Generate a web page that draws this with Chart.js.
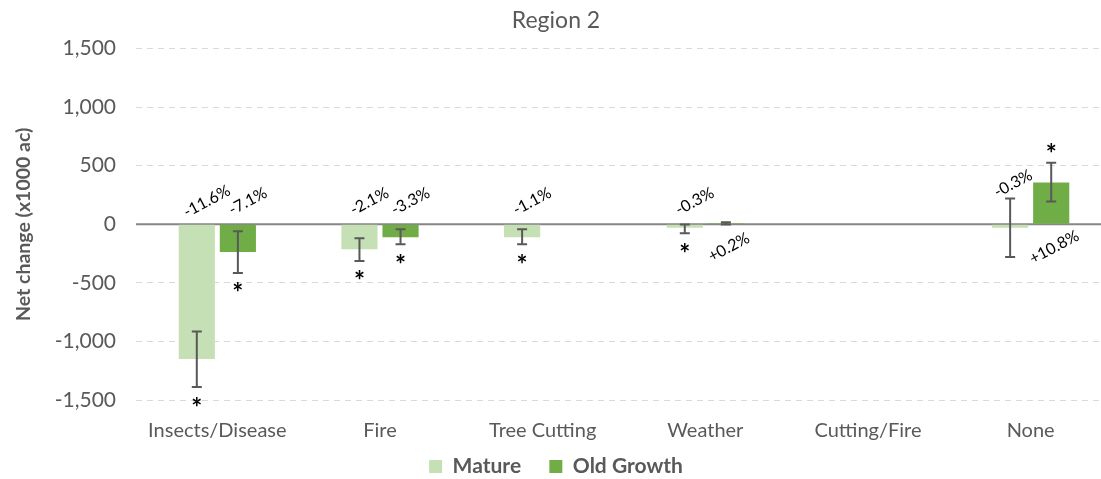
<!DOCTYPE html>
<html>
<head>
<meta charset="utf-8">
<script src="https://cdn.jsdelivr.net/npm/chart.js@4"></script>
<style>
  html,body{margin:0;padding:0;background:#fff;overflow:hidden;}
  #wrap{width:1112px;height:487px;position:relative;}
</style>
</head>
<body>
<div id="wrap"><canvas id="chart"></canvas></div>
<script>
  // values in 1000 ac
  const categories = ['Insects/Disease','Fire','Tree Cutting','Weather','Cutting/Fire','None'];
  const mature = [-1150, -212, -110, -30, null, -30];
  const matureLow = [-1390, -314, -170, -76, null, -280];
  const matureHigh = [-915, -119, -42, -2, null, 220];
  const maturePct = ['-11.6%','-2.1%','-1.1%','-0.3%','','-0.3%'];
  const matureStar = [true, true, true, true, false, false];

  const oldGrowth = [-237, -110, null, 8, null, 356];
  const oldLow = [-415, -170, null, -2, null, 195];
  const oldHigh = [-59, -42, null, 18, null, 525];
  const oldPct = ['-7.1%','-3.3%','','+0.2%','','+10.8%'];
  const oldStar = [true, true, false, false, false, true];

  const yTicks = [-1500,-1000,-500,0,500,1000,1500];

  const grey = '#595959';
  const FONT = 'Lato, "Open Sans", sans-serif';

  const extras = [
    { low: matureLow, high: matureHigh, pct: maturePct, star: matureStar },
    { low: oldLow, high: oldHigh, pct: oldPct, star: oldStar }
  ];

  // solid zero line under the bars
  const zeroLine = {
    id:'zeroLine',
    beforeDatasetsDraw(chart){
      const ctx = chart.ctx, a = chart.chartArea, y0 = chart.scales.y.getPixelForValue(0);
      ctx.save();
      ctx.strokeStyle = '#868686'; ctx.lineWidth = 2;
      ctx.beginPath(); ctx.moveTo(a.left, y0); ctx.lineTo(a.right, y0); ctx.stroke();
      ctx.restore();
    }
  };

  // error bars, rotated percent labels and significance stars
  const annotate = {
    id:'annotate',
    afterDatasetsDraw(chart){
      const ctx = chart.ctx, y = chart.scales.y;
      const y0 = y.getPixelForValue(0);
      chart.data.datasets.forEach((ds,di)=>{
        const meta = chart.getDatasetMeta(di), ex = extras[di];
        meta.data.forEach((bar,i)=>{
          const v = ds.data[i];
          if(v==null) return;
          const x = bar.x;
          const yl = y.getPixelForValue(ex.low[i]), yh = y.getPixelForValue(ex.high[i]);
          ctx.save();
          ctx.strokeStyle = '#595959'; ctx.lineWidth = 2;
          ctx.beginPath();
          ctx.moveTo(x, yl); ctx.lineTo(x, yh);
          ctx.moveTo(x-5, yl); ctx.lineTo(x+5, yl);
          ctx.moveTo(x-5, yh); ctx.lineTo(x+5, yh);
          ctx.stroke();
          // percent label, lifted above the error bar when it crosses zero
          ctx.fillStyle = '#000';
          ctx.font = '16px ' + FONT;
          if(v < 0){
            const crosses = ex.high[i] > 0;
            ctx.translate(crosses ? x + 3 : x + 10, crosses ? Math.min(y0 - 23, yh - 15) : y0 - 23);
          } else ctx.translate(x + 3, y0 + 23);
          ctx.rotate(-28*Math.PI/180);
          ctx.textAlign = 'center'; ctx.textBaseline = 'middle';
          ctx.fillText(ex.pct[i], 0, 0);
          ctx.restore();
          if(ex.star[i]){
            ctx.save();
            ctx.fillStyle = '#000';
            ctx.font = 'bold 26px ' + FONT;
            ctx.textAlign = 'center'; ctx.textBaseline = 'middle';
            const sy = v < 0 ? Math.max(yl, yh) + 21 : Math.min(yl, yh) - 8;
            ctx.fillText('*', x, sy);
            ctx.restore();
          }
        });
      });
    }
  };

  new Chart(document.getElementById('chart'),{
    type:'bar',
    data:{
      labels: categories,
      datasets:[
        { label:'Mature', data: mature, backgroundColor:'#c5e0b4', categoryPercentage:0.505, barPercentage:0.88 },
        { label:'Old Growth', data: oldGrowth, backgroundColor:'#70ad47', categoryPercentage:0.505, barPercentage:0.88 }
      ]
    },
    options:{
      responsive:true, maintainAspectRatio:false, animation:false,
      layout:{ padding:{ top:4, bottom:0, left:0, right:0 } },
      plugins:{
        title:{ display:true, text:'Region 2', color:grey, font:{ family:FONT, size:23, weight:'normal' }, padding:{ top:3, bottom:14 } },
        legend:{ position:'bottom', labels:{ color:grey, font:{ family:FONT, size:21, weight:'bold' }, boxWidth:13, boxHeight:13, padding:2,
          // small padding keeps the legend tight under the axis, so the gap between items is a trailing space
          generateLabels(chart){
            const items = Chart.defaults.plugins.legend.labels.generateLabels(chart);
            items.forEach((it,i)=>{ if(i < items.length-1) it.text += '\u2003\u2002'; });
            return items;
          } } },
        tooltip:{ enabled:false }
      },
      scales:{
        x:{
          grid:{ display:false }, border:{ display:false },
          ticks:{ color:grey, font:{ family:FONT, size:20 }, padding:11 }
        },
        y:{
          min:-1500, max:1500,
          afterBuildTicks(axis){ axis.ticks = yTicks.map(v=>({ value:v })); },
          afterFit(axis){ axis.width = 136; },
          border:{ display:false, dash:[6,5] },
          grid:{
            color: c => c.tick && c.tick.value===0 ? 'rgba(0,0,0,0)' : '#d9d9d9',
            drawTicks:false
          },
          ticks:{ color:grey, font:{ family:FONT, size:21 }, padding:20,
            callback: v => v.toLocaleString('en-US') },
          title:{ display:true, text:'Net change (x1000 ac)', color:grey, padding:{ top:12, bottom:4 },
            font:{ family:FONT, size:19.5, weight:'bold' } }
        }
      }
    },
    plugins:[zeroLine, annotate]
  });
</script>
</body>
</html>
